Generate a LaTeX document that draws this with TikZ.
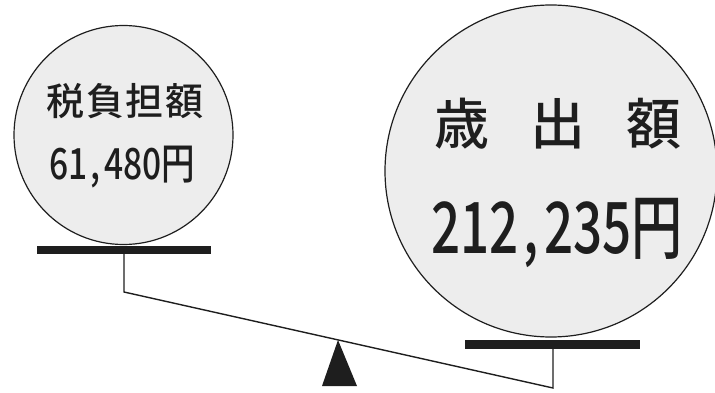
\documentclass[tikz,border=0pt]{standalone}
\usepackage{fontspec}
\newfontfamily\jp{Noto Sans CJK JP Medium}
\definecolor{ballfill}{HTML}{EDEDED}
\definecolor{ink}{HTML}{1E1E1E}
\newcommand{\cm}{\hspace{0.1em},\hspace{0.1em}}
\begin{document}
\begin{tikzpicture}[x=1pt,y=-1pt,
  ball/.style={circle,draw=ink,line width=1.2pt,fill=ballfill,inner sep=0pt,minimum size=#1},
  plate/.style={fill=ink,draw=none},
  rod/.style={draw=ink,line width=1.4pt},
  lbl/.style={inner sep=0pt,text=ink}]
\useasboundingbox (0,0) rectangle (715,393);
% balls
\node[ball=219pt] (lb) at (123.5,135) {};
\node[ball=332pt] (rb) at (551,171) {};
% texts
\node[lbl,font=\jp\fontsize{38}{38}\selectfont] (lt1) at (125,101) {税\hspace{0.05em}負\hspace{0.05em}担\hspace{0.05em}額};
\node[lbl,font=\jp\fontsize{43}{43}\selectfont] (lt2) at (122,167) {\scalebox{0.78}[1]{61\cm480円}};
\node[lbl,font=\jp\fontsize{55}{55}\selectfont] (rt1) at (558,124) {歳\hspace{0.75em}出\hspace{0.75em}額};
\node[lbl,font=\jp\fontsize{71}{71}\selectfont] (rt2) at (557,233) {\scalebox{0.72}[1]{212\cm235円}};
% plates
\path[plate] (37,246) rectangle (211,254);
\path[plate] (465,340) rectangle (640,349);
\coordinate (lp) at (124,254);
\coordinate (rp) at (553,349);
\coordinate (lk) at (124,292);
\coordinate (rk) at (553,388);
\draw[rod] (lp) -- (lk) -- (rk) -- (rp);
% fulcrum
\coordinate (apex) at (338,340);
\path[fill=ink] (apex) -- (322,386) -- (357,386) -- cycle;
\end{tikzpicture}
\end{document}
